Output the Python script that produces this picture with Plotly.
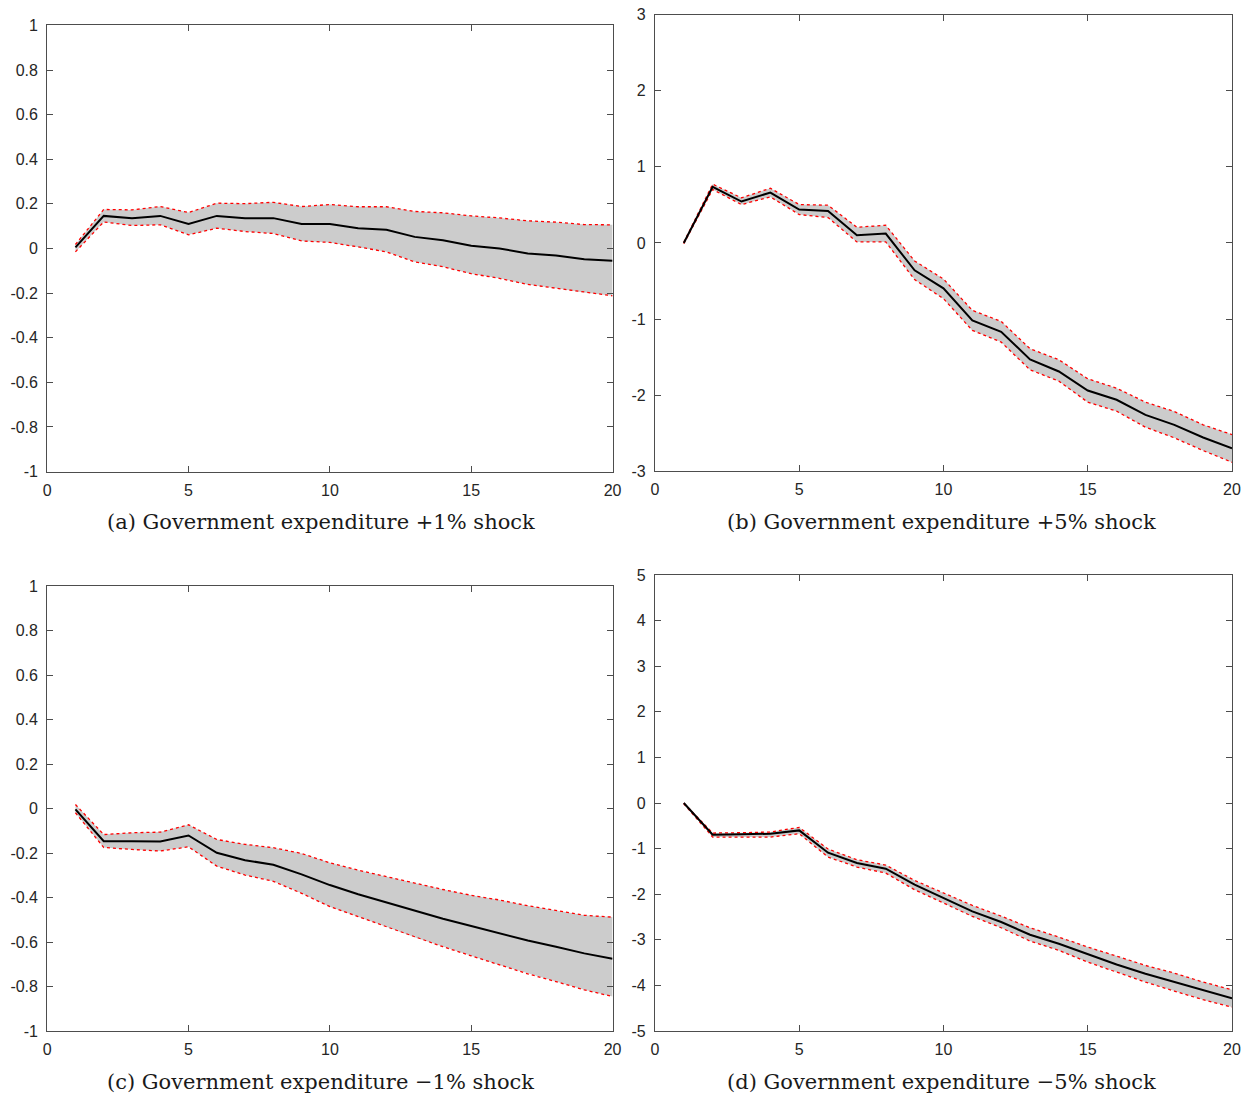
import plotly.graph_objects as go

periods = list(range(1, 21))

# Panel (a): Government expenditure +1% shock
a_mean = [0.005, 0.146, 0.136, 0.146, 0.110, 0.146, 0.136, 0.136, 0.110, 0.110,
          0.091, 0.084, 0.052, 0.037, 0.012, 0.000, -0.022, -0.031, -0.048, -0.055]
a_upper = [0.018, 0.175, 0.173, 0.188, 0.161, 0.203, 0.201, 0.207, 0.188, 0.197,
           0.187, 0.187, 0.166, 0.160, 0.146, 0.137, 0.124, 0.118, 0.107, 0.106]
a_lower = [-0.015, 0.119, 0.103, 0.106, 0.061, 0.091, 0.076, 0.067, 0.034, 0.027,
           0.007, -0.015, -0.060, -0.082, -0.113, -0.134, -0.161, -0.178, -0.197, -0.212]

# Panel (b): Government expenditure +5% shock
b_mean = [0.0, 0.737, 0.544, 0.662, 0.439, 0.421, 0.101, 0.123, -0.360, -0.596,
          -1.018, -1.167, -1.531, -1.689, -1.939, -2.061, -2.259, -2.390, -2.557, -2.697]
b_upper = [0.01, 0.772, 0.592, 0.719, 0.504, 0.496, 0.206, 0.232, -0.237, -0.474,
           -0.886, -1.031, -1.390, -1.535, -1.785, -1.908, -2.092, -2.215, -2.390, -2.518]
b_lower = [-0.01, 0.702, 0.504, 0.605, 0.373, 0.333, 0.013, 0.013, -0.482, -0.732,
           -1.149, -1.303, -1.667, -1.816, -2.092, -2.211, -2.421, -2.561, -2.728, -2.882]

# Panel (c): Government expenditure -1% shock
c_mean = [-0.004, -0.147, -0.147, -0.148, -0.121, -0.199, -0.232, -0.253, -0.296, -0.344,
          -0.385, -0.422, -0.461, -0.495, -0.528, -0.561, -0.593, -0.621, -0.651, -0.675]
c_upper = [0.018, -0.117, -0.109, -0.106, -0.073, -0.139, -0.161, -0.176, -0.202, -0.244,
           -0.277, -0.307, -0.336, -0.364, -0.390, -0.411, -0.437, -0.459, -0.480, -0.488]
c_lower = [-0.019, -0.175, -0.184, -0.191, -0.172, -0.259, -0.299, -0.327, -0.381, -0.441,
           -0.486, -0.531, -0.579, -0.621, -0.662, -0.703, -0.743, -0.778, -0.815, -0.845]

# Panel (d): Government expenditure -5% shock
d_mean = [0.0, -0.695, -0.687, -0.673, -0.600, -1.090, -1.316, -1.440, -1.790, -2.084,
          -2.377, -2.610, -2.889, -3.086, -3.320, -3.540, -3.744, -3.930, -4.110, -4.285]
d_upper = [0.0, -0.658, -0.651, -0.636, -0.534, -1.009, -1.243, -1.360, -1.697, -1.974,
           -2.245, -2.479, -2.735, -2.940, -3.159, -3.357, -3.561, -3.730, -3.927, -4.095]
d_lower = [-0.015, -0.746, -0.746, -0.746, -0.673, -1.185, -1.404, -1.536, -1.901, -2.194,
           -2.486, -2.735, -3.027, -3.232, -3.488, -3.708, -3.927, -4.124, -4.314, -4.475]

x_ticks = [0, 5, 10, 15, 20]
y_ticks_small = [-1, -0.8, -0.6, -0.4, -0.2, 0, 0.2, 0.4, 0.6, 0.8, 1]
y_labels_small = ["-1", "-0.8", "-0.6", "-0.4", "-0.2", "0", "0.2", "0.4", "0.6", "0.8", "1"]
y_ticks_b = [-3, -2, -1, 0, 1, 2, 3]
y_labels_b = ["-3", "-2", "-1", "0", "1", "2", "3"]
y_ticks_d = [-5, -4, -3, -2, -1, 0, 1, 2, 3, 4, 5]
y_labels_d = ["-5", "-4", "-3", "-2", "-1", "0", "1", "2", "3", "4", "5"]

captions = ["(a) Government expenditure +1% shock",
            "(b) Government expenditure +5% shock",
            "(c) Government expenditure \u22121% shock",
            "(d) Government expenditure \u22125% shock"]

W, H = 1250, 1098
# observed screen mapping of the page: screen = k * page + offset
KX, OX = 0.990, 3.5
KY, OY = 0.9846, 7.9

def px(v):
    return ((v - OX) / KX) / W

def py(v):
    return 1 - ((v - OY) / KY) / H

panels = [
    dict(mean=a_mean, up=a_upper, lo=a_lower, yr=[-1, 1], yt=y_ticks_small, yl=y_labels_small,
         dx=[px(46.7), px(612.3)], dy=[py(471.5), py(25.3)], cap=(px(320.5), py(522))),
    dict(mean=b_mean, up=b_upper, lo=b_lower, yr=[-3, 3], yt=y_ticks_b, yl=y_labels_b,
         dx=[px(654.7), px(1232)], dy=[py(471.2), py(14.5)], cap=(px(941.5), py(522))),
    dict(mean=c_mean, up=c_upper, lo=c_lower, yr=[-1, 1], yt=y_ticks_small, yl=y_labels_small,
         dx=[px(46.7), px(612.3)], dy=[py(1031), py(586)], cap=(px(320.5), py(1082))),
    dict(mean=d_mean, up=d_upper, lo=d_lower, yr=[-5, 5], yt=y_ticks_d, yl=y_labels_d,
         dx=[px(654.7), px(1232)], dy=[py(1031), py(575)], cap=(px(941.5), py(1082))),
]

fig = go.Figure()
annotations = []
tick_font = dict(family="Liberation Sans, Arial, sans-serif", size=16, color="#262626")

for i, p in enumerate(panels):
    n = "" if i == 0 else str(i + 1)
    xa, ya = "x" + n, "y" + n
    # shaded band
    fig.add_trace(go.Scatter(x=periods + periods[::-1], y=p["up"] + p["lo"][::-1],
                             fill="toself", fillcolor="#cccccc", line=dict(width=0),
                             mode="lines", hoverinfo="skip", showlegend=False,
                             xaxis=xa, yaxis=ya))
    for band in (p["up"], p["lo"]):
        fig.add_trace(go.Scatter(x=periods, y=band, mode="lines",
                                 line=dict(color="#ff0000", width=1.3, dash="dot"),
                                 showlegend=False, xaxis=xa, yaxis=ya))
    fig.add_trace(go.Scatter(x=periods, y=p["mean"], mode="lines",
                             line=dict(color="#000000", width=2),
                             showlegend=False, xaxis=xa, yaxis=ya))
    axis_common = dict(showgrid=False, zeroline=False, showline=True, mirror="allticks",
                       linecolor="#4d4d4d", linewidth=1, ticks="inside", ticklen=6,
                       tickcolor="#4d4d4d", tickwidth=1, tickfont=tick_font)
    fig.layout["xaxis" + n] = dict(axis_common, domain=p["dx"], range=[0, 20],
                                   tickvals=x_ticks, ticktext=[str(v) for v in x_ticks],
                                   anchor=ya, ticklabelstandoff=4)
    fig.layout["yaxis" + n] = dict(axis_common, domain=p["dy"], range=p["yr"],
                                   tickvals=p["yt"], ticktext=p["yl"], anchor=xa,
                                   ticklabelstandoff=5)
    annotations.append(dict(x=p["cap"][0], y=p["cap"][1], xref="paper", yref="paper",
                            text=captions[i], showarrow=False, xanchor="center", yanchor="middle",
                            font=dict(family="DejaVu Serif, Liberation Serif, serif", size=21,
                                      color="#1a1a1a")))

fig.update_layout(width=W, height=H, margin=dict(l=0, r=0, t=0, b=0),
                  paper_bgcolor="white", plot_bgcolor="white", annotations=annotations)

fig.write_html("out.html", config={"displayModeBar": False},
               post_script="document.body.style.margin='0';document.body.style.overflow='hidden';")
